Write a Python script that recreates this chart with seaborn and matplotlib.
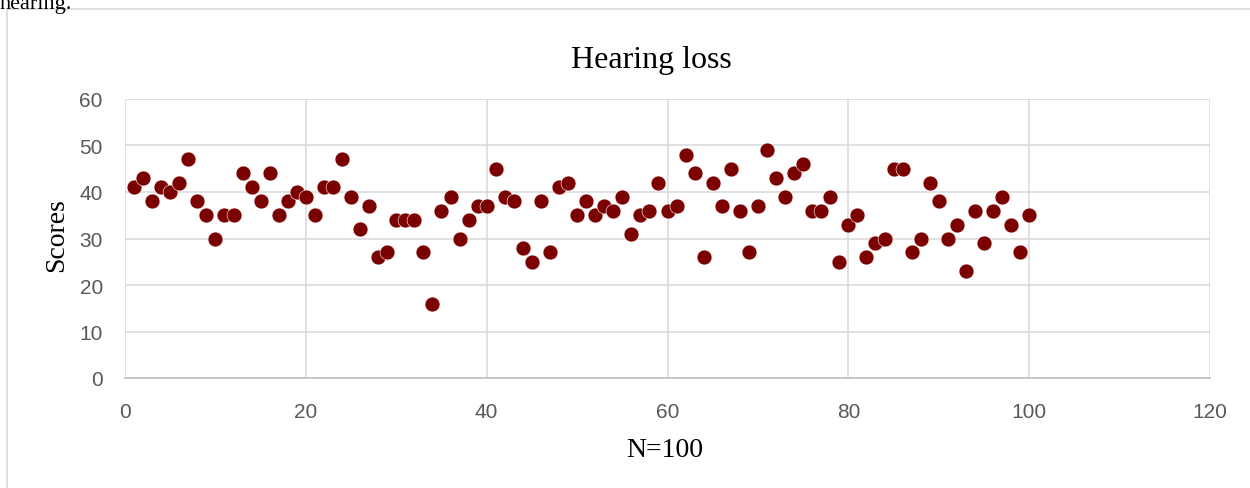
import matplotlib
matplotlib.use("Agg")
import matplotlib.pyplot as plt
import seaborn as sns
import pandas as pd
from matplotlib.patches import Rectangle

# ---- data ----
respondent = list(range(1, 101))
scores = [41, 43, 38, 41, 40, 42, 47, 38, 35, 30,
          35, 35, 44, 41, 38, 44, 35, 38, 40, 39,
          35, 41, 41, 47, 39, 32, 37, 26, 27, 34,
          34, 34, 27, 16, 36, 39, 30, 34, 37, 37,
          45, 39, 38, 28, 25, 38, 27, 41, 42, 35,
          38, 35, 37, 36, 39, 31, 35, 36, 42, 36,
          37, 48, 44, 26, 42, 37, 45, 36, 27, 37,
          49, 43, 39, 44, 46, 36, 36, 39, 25, 33,
          35, 26, 29, 30, 45, 45, 27, 30, 42, 38,
          30, 33, 23, 36, 29, 36, 39, 33, 27, 35]
x_ticks = [0, 20, 40, 60, 80, 100, 120]
y_ticks = [0, 10, 20, 30, 40, 50, 60]
title = "Hearing loss"
x_label = "N=100"
y_label = "Scores"

df = pd.DataFrame({"n": respondent, "score": scores})

sns.set_theme(style="whitegrid")
plt.rcParams["font.family"] = ["Liberation Serif", "DejaVu Serif"]

W, H = 1250, 489
fig = plt.figure(figsize=(W / 100, H / 100), dpi=100)
fig.patch.set_facecolor("white")

# outer chart border (extends past right/bottom edges)
fig.patches.append(Rectangle((7 / W, -0.1), 1.2, 1 - 10 / H + 0.1,
                             transform=fig.transFigure, fill=False,
                             edgecolor="#d9d9d9", linewidth=1.2, zorder=0))
# cut-off text above the chart
fig.text(0.0, 1 - 9 / H, "hearing.", fontsize=16, color="black",
         ha="left", va="baseline", family=["Liberation Serif"])

ax = fig.add_axes([125 / W, 1 - 379 / H, (1210 - 125) / W, (379 - 100) / H])
ax.set_facecolor("white")
sns.scatterplot(data=df, x="n", y="score", ax=ax, color="#7b0000",
                s=115, edgecolor="white", linewidth=0.4, zorder=3, legend=False)

ax.set_xlim(0, 120)
ax.set_ylim(0, 60)
ax.set_xticks(x_ticks)
ax.set_yticks(y_ticks)
ax.set_xticklabels([str(v) for v in x_ticks], family=["Liberation Sans"],
                   fontsize=15, color="#595959")
ax.set_yticklabels([str(v) for v in y_ticks], family=["Liberation Sans"],
                   fontsize=15, color="#595959")
ax.tick_params(axis="both", length=0)
ax.tick_params(axis="x", pad=17)
ax.tick_params(axis="y", pad=16)
ax.grid(True, color="#d9d9d9", linewidth=1.1)
for s in ["top", "right", "left"]:
    ax.spines[s].set_visible(False)
ax.spines["bottom"].set_color("#bfbfbf")
ax.spines["bottom"].set_linewidth(1.2)
ax.set_xlabel("")
ax.set_ylabel("")

fig.text(651 / W, 1 - 68 / H, title, fontsize=23, ha="center", va="baseline",
         color="black")
fig.text(665 / W, 1 - 457 / H, x_label, fontsize=20, ha="center",
         va="baseline", color="black")
fig.text(57 / W, 1 - 235 / H, y_label, fontsize=20, ha="center",
         va="center", rotation=90, color="black")

fig.savefig("out.png", dpi=100, facecolor="white")
